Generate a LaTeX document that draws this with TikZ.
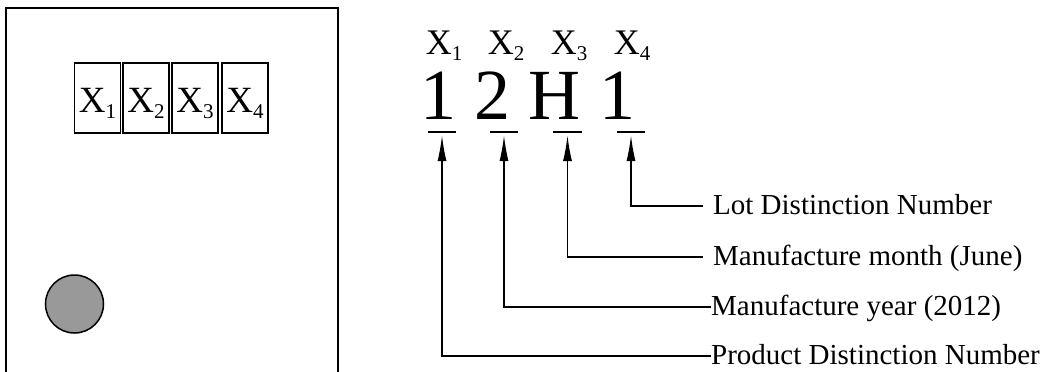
\documentclass[tikz,border=0pt]{standalone}
\usepackage{fontspec}
\setmainfont{Liberation Serif}
\usetikzlibrary{arrows.meta}
\definecolor{knobgray}{RGB}{153,153,153}
\newcommand\Xsub[1]{X\raisebox{-6pt}{\fontsize{21}{21}\selectfont #1}}
\begin{document}
\begin{tikzpicture}[x=1pt,y=-1pt,
  panel/.style={draw, line width=2pt, minimum width=332pt, minimum height=390pt, inner sep=0pt, anchor=north west},
  cell/.style={draw, line width=1.6pt, minimum width=46pt, minimum height=70pt, inner sep=0pt,
    font=\fontsize{37}{37}\selectfont, text height=28pt, text depth=0pt},
  knob/.style={circle, draw, line width=1.5pt, fill=knobgray, minimum size=58pt, inner sep=0pt},
  bigchar/.style={font=\fontsize{72}{72}\selectfont, inner sep=0pt, anchor=base},
  xlab/.style={font=\fontsize{36}{36}\selectfont, inner sep=0pt, anchor=base},
  desc/.style={font=\fontsize{29}{29}\selectfont, inner sep=0pt, anchor=base west},
  uspot/.style={inner sep=0pt, minimum width=28pt, minimum height=0pt},
  uline/.style={line width=1.6pt},
  conn/.style={line width=1.6pt, -{Latex[length=26pt,width=9pt]}}]
\useasboundingbox (0,0) rectangle (1052,372);
\clip (0,0) rectangle (1052,372);

% left panel
\node[panel] (panel) at (5,7) {};
\node[cell] (c1) at (97.5,98) {\Xsub{1}};
\node[cell] (c2) at (146,98) {\Xsub{2}};
\node[cell] (c3) at (195,98) {\Xsub{3}};
\node[cell] (c4) at (245,98) {\Xsub{4}};
\node[knob] (knob) at (74.5,304) {};

% code characters
\node[uspot] (u1) at (442,132) {};
\node[uspot] (u2) at (504,132) {};
\node[uspot] (u3) at (567.5,132) {};
\node[uspot] (u4) at (631,132) {};
\foreach \u in {u1,u2,u3,u4} \draw[uline] (\u.west) -- (\u.east);

\node[xlab] (x1) at (444,54) {\Xsub{1}};
\node[xlab] (x2) at (506,54) {\Xsub{2}};
\node[xlab] (x3) at (569,54) {\Xsub{3}};
\node[xlab] (x4) at (632,54) {\Xsub{4}};

\node[bigchar] (ch1) at (438,119) {1};
\node[bigchar] (ch2) at (492,119) {2};
\node[bigchar] (ch3) at (554,119) {H};
\node[bigchar] (ch4) at (617,119) {1};

% descriptions
\node[desc] (d4) at (713,214) {Lot Distinction Number};
\node[desc] (d3) at (713,265) {Manufacture month (June)};
\node[desc] (d2) at (711,315) {Manufacture year (2012)};
\node[desc] (d1) at (711,364) {Product Distinction Number};

\draw[conn] ([xshift=-10pt,yshift=8pt]d4.base west) -| ([yshift=-3pt]u4.center);
\draw[conn] ([xshift=-10pt,yshift=8pt]d3.base west) -| ([yshift=-3pt]u3.center);
\draw[conn] ([yshift=8pt]d2.base west) -| ([yshift=-3pt]u2.center);
\draw[conn] ([yshift=8pt]d1.base west) -| ([yshift=-3pt]u1.center);
\end{tikzpicture}
\end{document}
